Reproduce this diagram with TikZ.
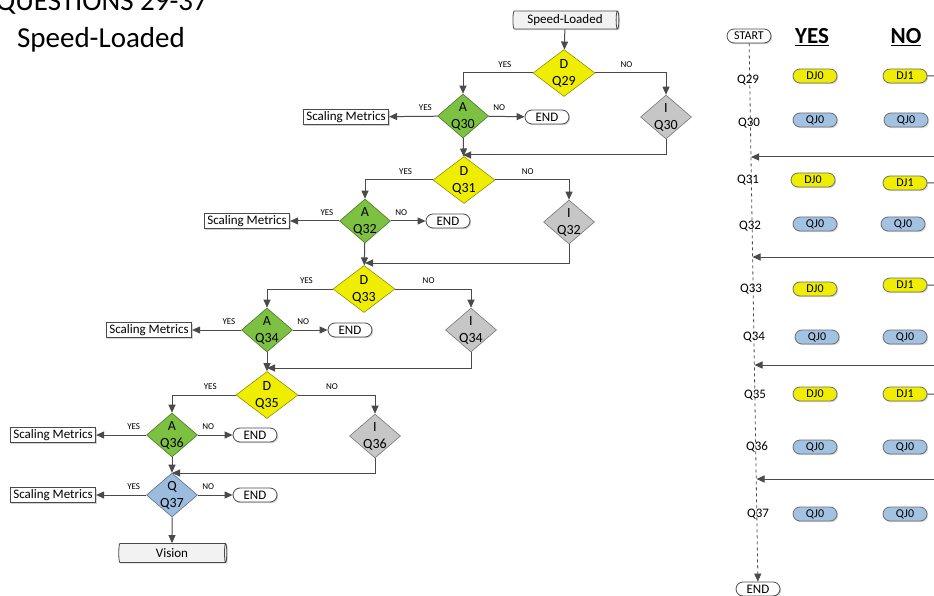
\documentclass[tikz,border=0pt]{standalone}
\usepackage{fontspec}
\setmainfont{Carlito}
\usetikzlibrary{shapes.geometric,shapes.misc,arrows.meta,shadows}
\definecolor{lnc}{HTML}{4A4A4A}
\definecolor{yelD}{HTML}{F0EE00}
\definecolor{grnA}{HTML}{7DC142}
\definecolor{gryI}{HTML}{C6C6C6}
\definecolor{bluQ}{HTML}{9BBCDD}
\definecolor{pblu}{HTML}{A3C2E2}

\begin{document}
\begin{tikzpicture}[x=1pt,y=-1pt]
\tikzstyle{ln}=[draw=lnc,line width=1pt]
\tikzstyle{arr}=[ln,-{Triangle[length=8pt,width=7pt]}]
\tikzstyle{dmd}=[diamond,draw,line width=0.6pt,inner sep=0pt,minimum width=62pt,minimum height=47pt]
\tikzstyle{dsm}=[dmd,minimum width=51pt,minimum height=44pt]
\tikzstyle{dtx}=[align=center,inner sep=0pt,font=\fontsize{14}{17}\selectfont]
\tikzstyle{yn}=[font=\fontsize{9}{10}\selectfont,inner sep=0pt,above=5pt]
\tikzstyle{term}=[rounded rectangle,draw=lnc,line width=0.8pt,fill=white,minimum width=44pt,minimum height=14pt,inner sep=0pt,font=\fontsize{13}{14}\selectfont,drop shadow={shadow xshift=1.2pt,shadow yshift=-1.2pt,opacity=0.35}]
\tikzstyle{box}=[rectangle,draw=lnc,line width=0.8pt,fill=white,minimum height=15pt,inner xsep=3pt,inner ysep=0pt,font=\fontsize{13}{14}\selectfont,drop shadow={shadow xshift=1.2pt,shadow yshift=-1.2pt,opacity=0.35}]
\tikzstyle{tube}=[cylinder,draw=lnc,line width=0.8pt,aspect=0.25,fill=gray!10,minimum height=106pt,minimum width=18pt,inner sep=0pt,font=\fontsize{13}{14}\selectfont,drop shadow={shadow xshift=1.2pt,shadow yshift=-1.2pt,opacity=0.3}]
\tikzstyle{pill}=[rounded rectangle,draw=lnc!80,line width=0.8pt,minimum width=44pt,minimum height=14pt,inner sep=0pt,font=\fontsize{12}{13}\selectfont,drop shadow={shadow xshift=1.2pt,shadow yshift=-1.2pt,opacity=0.3}]
\tikzstyle{qlab}=[font=\fontsize{13}{14}\selectfont,inner sep=0pt]
\tikzstyle{head}=[font=\fontsize{23}{24}\selectfont\bfseries,inner sep=0pt]
\clip (0,0) rectangle (934,596);

\node[font=\fontsize{29}{30}\selectfont,anchor=base east,inner sep=0pt] (ttl) at (208,11) {QUESTIONS 29-37};
\node[font=\fontsize{29}{30}\selectfont,inner sep=0pt] (sub) at (101,40) {Speed-Loaded};

% flow chart
\node[tube] (SL) at (565,20) {Speed-Loaded};
\node[dmd,fill=yelD,draw=yelD!60!black,label={[dtx]center:D\\Q29}] (D29) at (564,73) {};
\node[dsm,fill=grnA,draw=grnA!60!black,label={[dtx]center:A\\Q30}] (A30) at (463,116) {};
\node[dsm,fill=gryI,draw=gryI!60!black,label={[dtx]center:I\\Q30}] (I30) at (666,117) {};
\node[box] (S30) at (346,117) {Scaling Metrics};
\node[term] (E30) at (547,117) {END};
\coordinate (m31) at (463,155);

\node[dmd,fill=yelD,draw=yelD!60!black,label={[dtx]center:D\\Q31}] (D31) at (464,180) {};
\node[dsm,fill=grnA,draw=grnA!60!black,label={[dtx]center:A\\Q32}] (A32) at (365,221) {};
\node[dsm,fill=gryI,draw=gryI!60!black,label={[dtx]center:I\\Q32}] (I32) at (569,222) {};
\node[box] (S32) at (247,221) {Scaling Metrics};
\node[term] (E32) at (448,221) {END};
\coordinate (m33) at (365,263);

\node[dmd,fill=yelD,draw=yelD!60!black,label={[dtx]center:D\\Q33}] (D33) at (364,289) {};
\node[dsm,fill=grnA,draw=grnA!60!black,label={[dtx]center:A\\Q34}] (A34) at (267,330) {};
\node[dsm,fill=gryI,draw=gryI!60!black,label={[dtx]center:I\\Q34}] (I34) at (471,330) {};
\node[box] (S34) at (149,330) {Scaling Metrics};
\node[term] (E34) at (350,330) {END};
\coordinate (m35) at (267,368);

\node[dmd,fill=yelD,draw=yelD!60!black,label={[dtx]center:D\\Q35}] (D35) at (267,395) {};
\node[dsm,fill=grnA,draw=grnA!60!black,label={[dtx]center:A\\Q36}] (A36) at (172,435) {};
\node[dsm,fill=gryI,draw=gryI!60!black,label={[dtx]center:I\\Q36}] (I36) at (375,436) {};
\node[box] (S36) at (53,435) {Scaling Metrics};
\node[term] (E36) at (255,435) {END};
\coordinate (m37) at (172,473);

\node[dsm,fill=bluQ,draw=bluQ!60!black,label={[dtx]center:Q\\Q37}] (Q37) at (172,495) {};
\node[box] (S37) at (53,495) {Scaling Metrics};
\node[term] (E37) at (255,495) {END};
\node[tube,minimum width=19pt,minimum height=108pt] (VIS) at (172,553) {Vision};

\draw[arr] (SL) -- (D29);
\draw[arr] (D29.west) -| node[yn,pos=0.2] {YES} (A30);
\draw[arr] (D29.east) -| node[yn,pos=0.22] {NO} (I30);
\draw[arr] (A30) -- node[yn,pos=0.25] {YES} (S30);
\draw[arr] (A30) -- node[yn,pos=0.3] {NO} (E30);
\draw[arr] (A30) -- (D31);
\draw[arr] (I30) |- (m31);
\draw[arr] (D31.west) -| node[yn,pos=0.2] {YES} (A32);
\draw[arr] (D31.east) -| node[yn,pos=0.22] {NO} (I32);
\draw[arr] (A32) -- node[yn,pos=0.25] {YES} (S32);
\draw[arr] (A32) -- node[yn,pos=0.3] {NO} (E32);
\draw[arr] (A32) -- (D33);
\draw[arr] (I32) |- (m33);
\draw[arr] (D33.west) -| node[yn,pos=0.2] {YES} (A34);
\draw[arr] (D33.east) -| node[yn,pos=0.22] {NO} (I34);
\draw[arr] (A34) -- node[yn,pos=0.25] {YES} (S34);
\draw[arr] (A34) -- node[yn,pos=0.3] {NO} (E34);
\draw[arr] (A34) -- (D35);
\draw[arr] (I34) |- (m35);
\draw[arr] (D35.west) -| node[yn,pos=0.2] {YES} (A36);
\draw[arr] (D35.east) -| node[yn,pos=0.22] {NO} (I36);
\draw[arr] (A36) -- node[yn,pos=0.25] {YES} (S36);
\draw[arr] (A36) -- node[yn,pos=0.3] {NO} (E36);
\draw[arr] (A36) -- (Q37);
\draw[arr] (I36) |- (m37);
\draw[arr] (Q37) -- node[yn,pos=0.25] {YES} (S37);
\draw[arr] (Q37) -- node[yn,pos=0.3] {NO} (E37);
\draw[arr] (Q37) -- (VIS);

% answer table
\node[term,font=\fontsize{12}{13}\selectfont] (ST) at (749,36) {START};
\node[term] (EN) at (758,589) {END};
\draw[arr,dashed,line width=0.8pt] (ST) -- (EN);
\node[head] (hy) at (812,37) {\underline{YES}};
\node[head] (hn) at (906,37) {\underline{NO}};

\node[qlab] (q29) at (748,80) {Q29};
\node[qlab] (q30) at (749,123) {Q30};
\node[qlab] (q31) at (748,180) {Q31};
\node[qlab] (q32) at (750,226) {Q32};
\node[qlab] (q33) at (751,289) {Q33};
\node[qlab] (q34) at (754,337) {Q34};
\node[qlab] (q35) at (755,395) {Q35};
\node[qlab] (q36) at (757,447) {Q36};
\node[qlab] (q37) at (758,514) {Q37};

\node[pill,fill=yelD] (y29) at (815,76) {DJ0};
\node[pill,fill=yelD] (n29) at (905,76) {DJ1};
\node[pill,fill=pblu] (y30) at (815,120) {QJ0};
\node[pill,fill=pblu] (n30) at (906,120) {QJ0};
\node[pill,fill=yelD] (y31) at (813,180) {DJ0};
\node[pill,fill=yelD] (n31) at (905,183) {DJ1};
\node[pill,fill=pblu] (y32) at (815,224) {QJ0};
\node[pill,fill=pblu] (n32) at (903,224) {QJ0};
\node[pill,fill=yelD] (y33) at (815,289) {DJ0};
\node[pill,fill=yelD] (n33) at (905,285) {DJ1};
\node[pill,fill=pblu] (y34) at (817,337) {QJ0};
\node[pill,fill=pblu] (n34) at (905,337) {QJ0};
\node[pill,fill=yelD] (y35) at (815,394) {DJ0};
\node[pill,fill=yelD] (n35) at (905,394) {DJ1};
\node[pill,fill=pblu] (y36) at (815,447) {QJ0};
\node[pill,fill=pblu] (n36) at (905,447) {QJ0};
\node[pill,fill=pblu] (y37) at (815,514) {QJ0};
\node[pill,fill=pblu] (n37) at (905,514) {QJ0};

\coordinate (o29) at (934,76);
\coordinate (o31) at (934,183);
\coordinate (o33) at (934,285);
\coordinate (o35) at (934,394);
\draw[ln] (n29) -- (o29);
\draw[ln] (n31) -- (o31);
\draw[ln] (n33) -- (o33);
\draw[ln] (n35) -- (o35);

\coordinate (r1) at (934,157);
\coordinate (t1) at (751,157);
\coordinate (r2) at (934,257);
\coordinate (t2) at (752.5,257);
\coordinate (r3) at (934,365);
\coordinate (t3) at (754.5,365);
\coordinate (r4) at (934,479);
\coordinate (t4) at (756.5,479);
\draw[arr] (r1) -- (t1);
\draw[arr] (r2) -- (t2);
\draw[arr] (r3) -- (t3);
\draw[arr] (r4) -- (t4);
\end{tikzpicture}
\end{document}
